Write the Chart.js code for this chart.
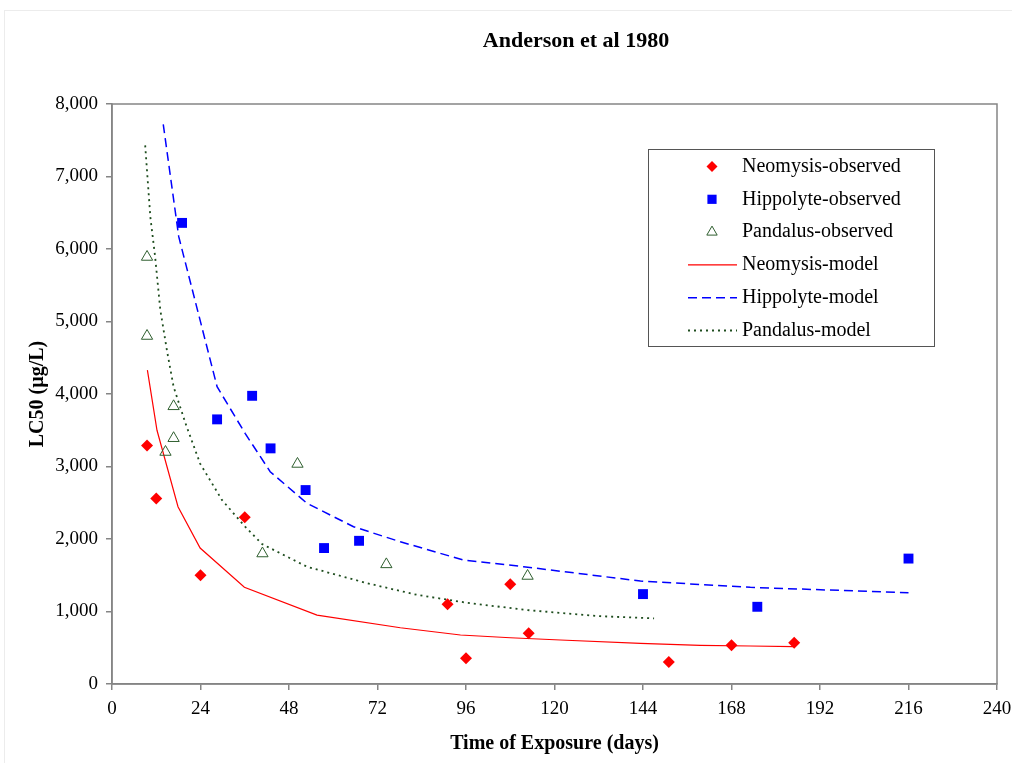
<!DOCTYPE html>
<html>
<head>
<meta charset="utf-8">
<title>Anderson et al 1980</title>
<script src="https://cdn.jsdelivr.net/npm/chart.js@4.4.1/dist/chart.umd.min.js"></script>
<style>
  html, body { margin: 0; padding: 0; background: #fff; }
  #wrap { position: relative; width: 1012px; height: 763px; overflow: hidden; }
  #frame { position: absolute; left: 4px; top: 10px; width: 1100px; height: 800px; border: 1px solid #ececec; }
  canvas { position: absolute; left: 0; top: 0; }
</style>
</head>
<body>
<div id="wrap">
  <div id="frame"></div>
  <canvas id="lcChart" width="1012" height="763"></canvas>
</div>
<script>
// observed LC50 values (ug/L) vs time of exposure (days)
const neoObsX = [9.5, 12, 24, 36, 91, 96, 108, 113, 151, 168, 185];
const neoObsY = [3290, 2560, 1500, 2300, 1100, 355, 1375, 700, 305, 535, 570];
const hipObsX = [19, 28.5, 38, 43, 52.5, 57.5, 67, 144, 175, 216];
const hipObsY = [6360, 3650, 3975, 3250, 2675, 1875, 1975, 1240, 1065, 1730];
const panObsX = [9.5, 9.5, 14.5, 16.7, 16.7, 40.8, 50.3, 74.4, 112.7];
const panObsY = [5890, 4800, 3200, 3830, 3390, 1800, 3035, 1650, 1490];

// model curves
const neoModelX = [9.6, 12.2, 17.9, 23.9, 35.9, 55.6, 78.2, 94.5, 108, 121.6, 143.3, 159.5, 173.1, 184.8];
const neoModelY = [4330, 3500, 2445, 1875, 1334, 951, 776, 676, 638, 607, 561, 534, 524, 515];
const hipModelX = [13.9, 18.1, 28.5, 36.1, 42.9, 52.9, 65.5, 78.2, 95.3, 111.6, 143.3, 173.1, 216];
const hipModelY = [7720, 6170, 4100, 3457, 2928, 2492, 2169, 1962, 1710, 1618, 1420, 1333, 1259];
const panModelX = [9, 10.4, 11.7, 13.1, 14.9, 16.7, 19.9, 23.9, 29.8, 36.1, 40.7, 52.9, 69.2, 82.7, 96.3, 112.5, 132.4, 147];
const panModelY = [7430, 6440, 5890, 5160, 4600, 4100, 3600, 3040, 2540, 2170, 1930, 1617, 1390, 1230, 1120, 1020, 935, 905];

// axis ticks
const xTicks = [0, 24, 48, 72, 96, 120, 144, 168, 192, 216, 240];
const yTicks = [0, 1000, 2000, 3000, 4000, 5000, 6000, 7000, 8000];

const chartTitle = 'Anderson et al 1980';
const serif = "'Liberation Serif', 'Times New Roman', serif";
const axisGray = '#858585';

function toPoints(xs, ys) {
    return xs.map((x, i) => ({ x: x, y: ys[i] }));
}

// draws the title, the plot frame and the boxed legend inside the plot
const frameLegend = {
    id: 'frameLegend',
    beforeDatasetsDraw(chart) {
        const { ctx, chartArea } = chart;
        ctx.save();
        ctx.strokeStyle = axisGray;
        ctx.lineWidth = 1.5;
        ctx.strokeRect(chartArea.left, chartArea.top, chartArea.right - chartArea.left, chartArea.bottom - chartArea.top);
        ctx.restore();
    },
    afterDraw(chart) {
        const ctx = chart.ctx;
        ctx.save();

        // title sits a bit right of the plot centre, as in the original
        ctx.fillStyle = '#000';
        ctx.font = 'bold 22px ' + serif;
        ctx.textAlign = 'center';
        ctx.textBaseline = 'middle';
        ctx.fillText(chartTitle, 576, 41);

        const box = { x: 648.5, y: 149.5, w: 286, h: 197 };
        ctx.fillStyle = '#fff';
        ctx.fillRect(box.x, box.y, box.w, box.h);
        ctx.strokeStyle = '#555';
        ctx.lineWidth = 1;
        ctx.strokeRect(box.x, box.y, box.w, box.h);

        chart.data.datasets.forEach((ds, i) => {
            const rowY = 166.5 + i * 32.8;
            if (ds.showLine) {
                ctx.strokeStyle = ds.borderColor;
                ctx.lineWidth = ds.borderWidth;
                ctx.setLineDash(ds.borderDash || []);
                ctx.beginPath();
                ctx.moveTo(688, rowY);
                ctx.lineTo(737, rowY);
                ctx.stroke();
                ctx.setLineDash([]);
            } else {
                ctx.fillStyle = ds.backgroundColor;
                ctx.strokeStyle = ds.borderColor;
                ctx.lineWidth = ds.borderWidth;
                Chart.helpers.drawPoint(ctx, {
                    pointStyle: ds.pointStyle,
                    radius: ds.pointRadius - 0.5,
                    rotation: 0,
                    borderWidth: ds.borderWidth
                }, 712, rowY);
            }
            ctx.fillStyle = '#000';
            ctx.font = '20px ' + serif;
            ctx.textAlign = 'left';
            ctx.textBaseline = 'middle';
            ctx.fillText(ds.label, 742, rowY);
        });
        ctx.restore();
    }
};

const ctx = document.getElementById('lcChart').getContext('2d');
const lcChart = new Chart(ctx, {
    type: 'scatter',
    data: {
        datasets: [
            {
                label: 'Neomysis-observed',
                data: toPoints(neoObsX, neoObsY),
                pointStyle: 'rectRot',
                pointRadius: 6,
                backgroundColor: '#ff0000',
                borderColor: '#ff0000',
                borderWidth: 0,
                showLine: false
            },
            {
                label: 'Hippolyte-observed',
                data: toPoints(hipObsX, hipObsY),
                pointStyle: 'rect',
                pointRadius: 7,
                backgroundColor: '#0000ff',
                borderColor: '#0000ff',
                borderWidth: 0,
                showLine: false
            },
            {
                label: 'Pandalus-observed',
                data: toPoints(panObsX, panObsY),
                pointStyle: 'triangle',
                pointRadius: 6.5,
                backgroundColor: 'rgba(255,255,255,0)',
                borderColor: '#2f5f2f',
                borderWidth: 1,
                showLine: false
            },
            {
                label: 'Neomysis-model',
                data: toPoints(neoModelX, neoModelY),
                showLine: true,
                pointRadius: 0,
                borderColor: '#ff0000',
                borderWidth: 1.2,
                tension: 0
            },
            {
                label: 'Hippolyte-model',
                data: toPoints(hipModelX, hipModelY),
                showLine: true,
                pointRadius: 0,
                borderColor: '#0000ff',
                borderWidth: 1.5,
                borderDash: [9, 5],
                tension: 0
            },
            {
                label: 'Pandalus-model',
                data: toPoints(panModelX, panModelY),
                showLine: true,
                pointRadius: 0,
                borderColor: '#1e4d1e',
                borderWidth: 1.8,
                borderDash: [2, 4],
                tension: 0
            }
        ]
    },
    options: {
        responsive: false,
        animation: false,
        devicePixelRatio: 1,
        layout: { padding: { left: 0, right: 15, top: 104, bottom: 0 } },
        plugins: {
            legend: { display: false },
            tooltip: { enabled: false },
            title: { display: false }
        },
        scales: {
            x: {
                type: 'linear',
                min: 0,
                max: 240,
                afterFit(scale) {
                    scale.height = 79;
                    scale.paddingLeft = 0;
                    scale.paddingRight = 0;
                },
                afterBuildTicks(scale) { scale.ticks = xTicks.map(v => ({ value: v })); },
                ticks: {
                    color: '#000',
                    font: { family: serif, size: 19 },
                    padding: 8,
                    maxRotation: 0
                },
                grid: { display: true, drawOnChartArea: false, drawTicks: true, tickLength: 6, color: axisGray, lineWidth: 1.5 },
                border: { display: true, color: axisGray, width: 1.5 },
                title: {
                    display: true,
                    text: 'Time of Exposure (days)',
                    color: '#000',
                    font: { family: serif, size: 20, weight: 'bold' },
                    padding: { top: 0, bottom: 7 }
                }
            },
            y: {
                type: 'linear',
                min: 0,
                max: 8000,
                afterFit(scale) { scale.width = 112; },
                afterBuildTicks(scale) { scale.ticks = yTicks.map(v => ({ value: v })); },
                ticks: {
                    color: '#000',
                    font: { family: serif, size: 19 },
                    padding: 8,
                    callback: v => v.toLocaleString('en-US')
                },
                grid: { display: true, drawOnChartArea: false, drawTicks: true, tickLength: 6, color: axisGray, lineWidth: 1.5 },
                border: { display: true, color: axisGray, width: 1.5 },
                title: {
                    display: true,
                    text: 'LC50 (µg/L)',
                    color: '#000',
                    font: { family: serif, size: 20, weight: 'bold' },
                    padding: { top: 26, bottom: 0 }
                }
            }
        }
    },
    plugins: [frameLegend]
});
</script>
</body>
</html>
